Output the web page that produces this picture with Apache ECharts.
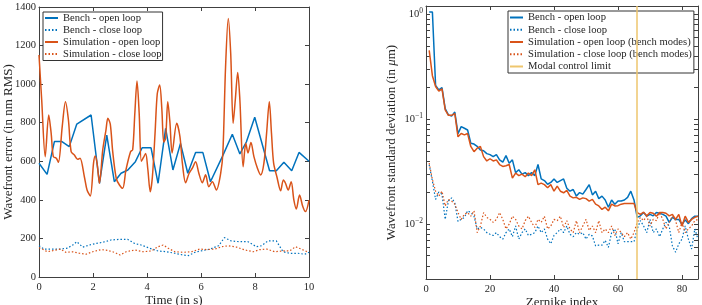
<!DOCTYPE html>
<html>
<head>
<meta charset="utf-8">
<script src="https://cdn.jsdelivr.net/npm/echarts@6/dist/echarts.min.js"></script>
<style>
  html, body { margin: 0; padding: 0; background: #fff; }
  #chart { width: 702px; height: 305px; }
</style>
</head>
<body>
<div id="chart"></div>
<script>
// ---- left panel: wavefront error vs time (nm RMS) ----
var benchOpenT = [0, 0.3, 0.57, 0.85, 1.12, 1.4, 1.93, 2.24, 2.51, 2.79, 3.04, 3.29, 3.57, 3.82, 4.15, 4.41, 4.69, 4.96, 5.24, 5.51, 5.8, 6.07, 6.35, 6.79, 7.16, 7.44, 7.68, 7.99, 8.54, 8.79, 9.07, 9.36, 9.63, 10]
var benchOpenV = [590, 532, 702, 702, 676, 793, 840, 486, 736, 494, 538, 555, 598, 670, 670, 486, 771, 555, 693, 538, 645, 645, 494, 624, 740, 638, 700, 828, 551, 551, 595, 551, 646, 600]

var simOpenT = [0, 0.1, 0.23, 0.36, 0.45, 0.53, 0.64, 0.72, 0.86, 0.98, 1.09, 1.19, 1.31, 1.43, 1.52, 1.68, 1.78, 1.9, 2.02, 2.08, 2.15, 2.24, 2.36, 2.48, 2.55, 2.64, 2.73, 2.86, 2.98, 3.1, 3.22, 3.39, 3.47, 3.55, 3.63, 3.71, 3.79, 3.87, 3.95, 4.03, 4.12, 4.2, 4.3, 4.38, 4.47, 4.55, 4.62, 4.69, 4.77, 4.85, 4.93, 5.1, 5.22, 5.31, 5.43, 5.56, 5.68, 5.8, 5.92, 6.05, 6.17, 6.29, 6.42, 6.57, 6.73, 6.81, 6.91, 7.01, 7.1, 7.19, 7.27, 7.36, 7.44, 7.56, 7.66, 7.74, 7.85, 7.96, 8.09, 8.21, 8.33, 8.43, 8.53, 8.61, 8.69, 8.81, 8.95, 9.05, 9.13, 9.23, 9.34, 9.44, 9.53, 9.65, 9.77, 9.87, 10]
var simOpenV = [1151, 918, 624, 840, 746, 624, 616, 595, 780, 909, 814, 650, 633, 610, 616, 520, 451, 420, 590, 627, 590, 486, 658, 762, 823, 793, 650, 512, 477, 460, 555, 650, 660, 850, 1016, 850, 600, 620, 640, 560, 442, 520, 750, 950, 995, 870, 700, 720, 909, 800, 643, 797, 728, 590, 489, 538, 564, 598, 538, 489, 530, 468, 494, 451, 538, 643, 1090, 1341, 1160, 797, 918, 1061, 918, 572, 693, 643, 697, 624, 564, 529, 590, 746, 909, 746, 590, 520, 447, 503, 486, 451, 494, 399, 353, 425, 365, 339, 399]

var benchCloseT = [0, 0.19, 0.5, 0.8, 1.06, 1.25, 1.4, 1.62, 1.87, 2.11, 2.36, 2.67, 2.98, 3.29, 3.54, 3.78, 4.1, 4.41, 4.72, 5.03, 5.34, 5.53, 5.78, 6.09, 6.34, 6.65, 6.87, 7.12, 7.43, 7.74, 8.05, 8.24, 8.48, 8.79, 9.04, 9.28, 9.59, 9.84, 10]
var benchCloseV = [162, 145, 145, 145, 150, 166, 183, 155, 166, 174, 180, 192, 195, 195, 174, 166, 149, 135, 131, 123, 114, 111, 128, 138, 145, 162, 204, 187, 183, 183, 157, 162, 187, 187, 131, 123, 123, 118, 128]

var simCloseT = [0, 0.12, 0.31, 0.56, 0.8, 0.99, 1.25, 1.5, 1.74, 1.99, 2.3, 2.55, 2.79, 3.0, 3.23, 3.54, 3.86, 4.16, 4.41, 4.6, 4.79, 5.03, 5.34, 5.65, 5.96, 6.21, 6.52, 6.77, 7.02, 7.32, 7.63, 7.94, 8.18, 8.43, 8.73, 9.04, 9.28, 9.5, 9.71, 9.93]
var simCloseV = [152, 145, 131, 138, 145, 128, 131, 123, 118, 131, 142, 138, 128, 114, 131, 140, 131, 135, 157, 166, 149, 131, 128, 131, 145, 142, 145, 157, 162, 155, 140, 131, 142, 145, 131, 135, 135, 157, 145, 131]

// ---- right panel: std per Zernike mode (um) ----
var benchOpenStd = [1.05, 1.05, 0.21, 0.19, 0.2, 0.126, 0.11, 0.107, 0.117, 0.073,
  0.085, 0.082, 0.079, 0.059, 0.058, 0.055, 0.051, 0.05, 0.047, 0.046,
  0.044, 0.046, 0.041, 0.039, 0.045, 0.038, 0.041, 0.031, 0.033, 0.03,
  0.031, 0.029, 0.031, 0.029, 0.037, 0.027, 0.026, 0.024, 0.025, 0.027,
  0.025, 0.026, 0.027, 0.022, 0.0206, 0.0214, 0.0185, 0.02, 0.0193, 0.0214,
  0.0238, 0.019, 0.0206, 0.0175, 0.0185, 0.017, 0.0145, 0.017, 0.0155, 0.0166,
  0.0166, 0.017, 0.018, 0.0206, 0.017, 0.0116, 0.012, 0.0129, 0.0119, 0.0124,
  0.012, 0.0129, 0.0127, 0.0124, 0.0119, 0.0104, 0.0116, 0.0111, 0.0111, 0.0099,
  0.011, 0.0101, 0.0113, 0.0119, 0.0119]
var benchCloseStd = [0.0368, 0.0256, 0.0172, 0.0202, 0.0193, 0.0111, 0.0166, 0.0178, 0.016, 0.0106,
  0.0111, 0.0116, 0.0134, 0.0129, 0.0119, 0.009, 0.0093, 0.009, 0.0083, 0.008,
  0.0078, 0.0083, 0.0076, 0.0072, 0.0083, 0.009, 0.0076, 0.0096, 0.0072, 0.0083,
  0.009, 0.0078, 0.008, 0.0083, 0.0096, 0.0083, 0.009, 0.0072, 0.0065, 0.0078,
  0.0083, 0.009, 0.0083, 0.0096, 0.008, 0.0076, 0.0083, 0.008, 0.0083, 0.0072,
  0.008, 0.0077, 0.0062, 0.0063, 0.0063, 0.007, 0.006, 0.0083, 0.009, 0.0065,
  0.0083, 0.0068, 0.0068, 0.0068, 0.0068, 0.009, 0.0108, 0.0096, 0.0083, 0.0111,
  0.0083, 0.009, 0.0076, 0.009, 0.0104, 0.0096, 0.0062, 0.0054, 0.0065, 0.0072,
  0.0096, 0.0072, 0.0058, 0.009, 0.0072]
var simOpenStd = [0.454, 0.26, 0.205, 0.185, 0.195, 0.123, 0.109, 0.109, 0.113, 0.068,
  0.073, 0.071, 0.073, 0.055, 0.049, 0.053, 0.055, 0.044, 0.04, 0.042,
  0.04, 0.041, 0.037, 0.0355, 0.036, 0.037, 0.0275, 0.0307, 0.029, 0.03,
  0.0283, 0.0307, 0.029, 0.033, 0.0238, 0.0246, 0.0238, 0.0222, 0.0238, 0.0206,
  0.023, 0.0206, 0.0199, 0.021, 0.0185, 0.0178, 0.018, 0.0172, 0.0178, 0.0175,
  0.0166, 0.0172, 0.0155, 0.0149, 0.0138, 0.0145, 0.0134, 0.0155, 0.0149, 0.015,
  0.0155, 0.0157, 0.0157, 0.0157, 0.0157, 0.0129, 0.0124, 0.013, 0.012, 0.0129,
  0.0127, 0.0119, 0.0129, 0.0129, 0.0127, 0.012, 0.0124, 0.0111, 0.0124, 0.0096,
  0.0119, 0.0104, 0.0111, 0.0116, 0.0119]
var simCloseStd = [0.0382, 0.0266, 0.0206, 0.0185, 0.0206, 0.0149, 0.0172, 0.0166, 0.0155, 0.0129,
  0.0111, 0.0124, 0.0129, 0.0119, 0.0134, 0.0083, 0.0096, 0.0129, 0.0116, 0.0111,
  0.0104, 0.0111, 0.0129, 0.0111, 0.009, 0.01, 0.0119, 0.0111, 0.0096, 0.009,
  0.0108, 0.0119, 0.0104, 0.0093, 0.0111, 0.0104, 0.0119, 0.009, 0.0096, 0.0111,
  0.0108, 0.0119, 0.0093, 0.0108, 0.009, 0.0083, 0.0108, 0.0083, 0.0096, 0.0111,
  0.0087, 0.0096, 0.0083, 0.0108, 0.0083, 0.009, 0.0083, 0.0096, 0.0078, 0.009,
  0.0083, 0.0076, 0.0083, 0.0072, 0.0083, 0.0104, 0.0116, 0.0108, 0.0119, 0.0096,
  0.0111, 0.0108, 0.0129, 0.0111, 0.009, 0.0104, 0.0119, 0.0108, 0.0083, 0.0104,
  0.0083, 0.009, 0.0096, 0.0108, 0.0111]
var modalLimit = 66

var zernikeIdx = []
for (var k = 1; k <= benchOpenStd.length; k++) zernikeIdx.push(k)

// log axis ticks (majors + minors, same length like matlab)
var logTicks = [0.004, 0.005, 0.006, 0.007, 0.008, 0.009, 0.01, 0.02, 0.03, 0.04, 0.05, 0.06, 0.07, 0.08, 0.09, 0.1, 0.2, 0.3, 0.4, 0.5, 0.6, 0.7, 0.8, 0.9, 1]

var SERIF = "'Liberation Serif', 'DejaVu Serif', serif"
var TXT = '#262626'
var AXC = '#404040'
var BLUE = '#0072BD', ORANGE = '#D95319', GOLD = '#EEC66E'

function pairs (xs, ys) {
  return xs.map(function (x, i) { return [x, ys[i]] })
}
function boxLine () { return { show: true, onZero: false, lineStyle: { color: AXC, width: 1 } } }
function ticks (len, vals) {
  var t = { show: true, inside: true, length: len, lineStyle: { color: AXC, width: 1 } }
  if (vals) t.customValues = vals
  return t
}
var tickFont = { color: TXT, fontFamily: SERIF, fontSize: 10.5 }
var nameFont = { color: TXT, fontFamily: SERIF, fontSize: 13 }
var noSplit = { show: false }

function lineSeries (name, xi, yi, data, color, dotted, smooth) {
  return {
    name: name, type: 'line', xAxisIndex: xi, yAxisIndex: yi,
    data: data, symbol: 'none', smooth: smooth || false,
    lineStyle: { color: color, width: dotted ? 1.2 : 1.5, type: dotted ? [1.5, 2] : 'solid' },
    itemStyle: { color: color },
    emphasis: { disabled: true }
  }
}

var chart = echarts.init(document.getElementById('chart'), null, { renderer: 'canvas' })

var option = {
  animation: false,
  backgroundColor: '#fff',
  textStyle: { fontFamily: SERIF },
  grid: [
    { left: 39, right: 393, top: 7, bottom: 28, outerBoundsMode: 'none' },
    { left: 426, right: 4, top: 6, bottom: 26, outerBoundsMode: 'none' }
  ],
  legend: [
    {
      data: ['Bench - open loop', 'Bench - close loop', 'Simulation - open loop', 'Simulation - close loop'],
      orient: 'vertical', left: 43, top: 12,
      itemWidth: 13, itemHeight: 12, itemGap: 1, padding: [0.5, 1, 1, 1],
      itemStyle: { opacity: 0 },
      borderColor: '#333', borderWidth: 1, backgroundColor: '#fff',
      selectedMode: false,
      textStyle: { fontFamily: SERIF, fontSize: 10.6, color: TXT }
    },
    {
      data: ['Bench - open loop', 'Bench - close loop', 'Simulation - open loop (bench modes)', 'Simulation - close loop (bench modes)', 'Modal control limit'],
      orient: 'vertical', left: 508, top: 11,
      itemWidth: 13, itemHeight: 12, itemGap: 1.25, padding: [1, 2, 1, 1],
      itemStyle: { opacity: 0 },
      borderColor: '#333', borderWidth: 1, backgroundColor: '#fff',
      selectedMode: false,
      textStyle: { fontFamily: SERIF, fontSize: 10.6, color: TXT }
    }
  ],
  xAxis: [
    {
      gridIndex: 0, type: 'value', min: 0, max: 10, interval: 2, position: 'bottom',
      axisLine: boxLine(), axisTick: ticks(4), splitLine: noSplit,
      axisLabel: Object.assign({ margin: 5 }, tickFont),
      name: 'Time (in s)', nameLocation: 'middle', nameGap: 17, nameMoveOverlap: false, nameTextStyle: nameFont
    },
    {
      gridIndex: 0, type: 'value', min: 0, max: 10, interval: 2, position: 'top',
      axisLine: boxLine(), axisTick: ticks(4), splitLine: noSplit, axisLabel: { show: false }
    },
    {
      gridIndex: 1, type: 'value', min: 0, max: 85, interval: 20, position: 'bottom',
      axisLine: boxLine(), axisTick: ticks(4), splitLine: noSplit,
      axisLabel: Object.assign({ margin: 5, showMaxLabel: false }, tickFont),
      name: 'Zernike index', nameLocation: 'middle', nameGap: 17, nameMoveOverlap: false, nameTextStyle: nameFont
    },
    {
      gridIndex: 1, type: 'value', min: 0, max: 85, interval: 20, position: 'top',
      axisLine: boxLine(), axisTick: ticks(4), splitLine: noSplit, axisLabel: { show: false }
    }
  ],
  yAxis: [
    {
      gridIndex: 0, type: 'value', min: 0, max: 1400, interval: 200, position: 'left',
      axisLine: boxLine(), axisTick: ticks(4), splitLine: noSplit,
      axisLabel: Object.assign({ margin: 3, formatter: function (v) { return String(v) } }, tickFont),
      name: 'Wavefront error (in nm RMS)', nameLocation: 'middle', nameGap: 24, nameMoveOverlap: false, nameTextStyle: nameFont
    },
    {
      gridIndex: 0, type: 'value', min: 0, max: 1400, interval: 200, position: 'right',
      axisLine: boxLine(), axisTick: ticks(4), splitLine: noSplit, axisLabel: { show: false }
    },
    {
      gridIndex: 1, type: 'log', logBase: 10, min: 0.003, max: 1.2, position: 'left',
      axisLine: boxLine(), axisTick: ticks(4, logTicks), splitLine: noSplit,
      axisLabel: {
        margin: 3, showMinLabel: false, showMaxLabel: false,
        formatter: function (v) {
          var e = Math.round(Math.log10(v))
          return '{b|10}{s|' + (e < 0 ? '\u2212' + (-e) : e) + '}'
        },
        rich: {
          b: { fontFamily: SERIF, fontSize: 10.5, color: TXT },
          s: { fontFamily: SERIF, fontSize: 7.5, color: TXT, padding: [0, 0, 7, 0] }
        }
      },
      name: 'Wavefront standard deviation (in {i|\u03bc}m)', nameLocation: 'middle', nameGap: 28, nameMoveOverlap: false,
      nameTextStyle: Object.assign({ rich: { i: { fontFamily: SERIF, fontSize: 13, fontStyle: 'italic', color: TXT } } }, nameFont)
    },
    {
      gridIndex: 1, type: 'log', logBase: 10, min: 0.003, max: 1.2, position: 'right',
      axisLine: boxLine(), axisTick: ticks(4, logTicks), splitLine: noSplit, axisLabel: { show: false }
    }
  ],
  series: [
    lineSeries('Bench - open loop', 0, 0, pairs(benchOpenT, benchOpenV), BLUE, false),
    lineSeries('Bench - close loop', 0, 0, pairs(benchCloseT, benchCloseV), BLUE, true),
    lineSeries('Simulation - open loop', 0, 0, pairs(simOpenT, simOpenV), ORANGE, false, 0.3),
    lineSeries('Simulation - close loop', 0, 0, pairs(simCloseT, simCloseV), ORANGE, true),

    lineSeries('Bench - open loop', 2, 2, pairs(zernikeIdx, benchOpenStd), BLUE, false),
    lineSeries('Bench - close loop', 2, 2, pairs(zernikeIdx, benchCloseStd), BLUE, true),
    lineSeries('Simulation - open loop (bench modes)', 2, 2, pairs(zernikeIdx, simOpenStd), ORANGE, false),
    lineSeries('Simulation - close loop (bench modes)', 2, 2, pairs(zernikeIdx, simCloseStd), ORANGE, true),
    {
      name: 'Modal control limit', type: 'line', xAxisIndex: 2, yAxisIndex: 2,
      data: [], symbol: 'none',
      lineStyle: { color: GOLD, width: 1.5 }, itemStyle: { color: GOLD },
      markLine: {
        silent: true, symbol: ['none', 'none'], label: { show: false },
        lineStyle: { color: GOLD, width: 1.5, type: 'solid' },
        emphasis: { disabled: true },
        data: [{ xAxis: modalLimit }]
      }
    }
  ]
}

chart.setOption(option)
</script>
</body>
</html>
